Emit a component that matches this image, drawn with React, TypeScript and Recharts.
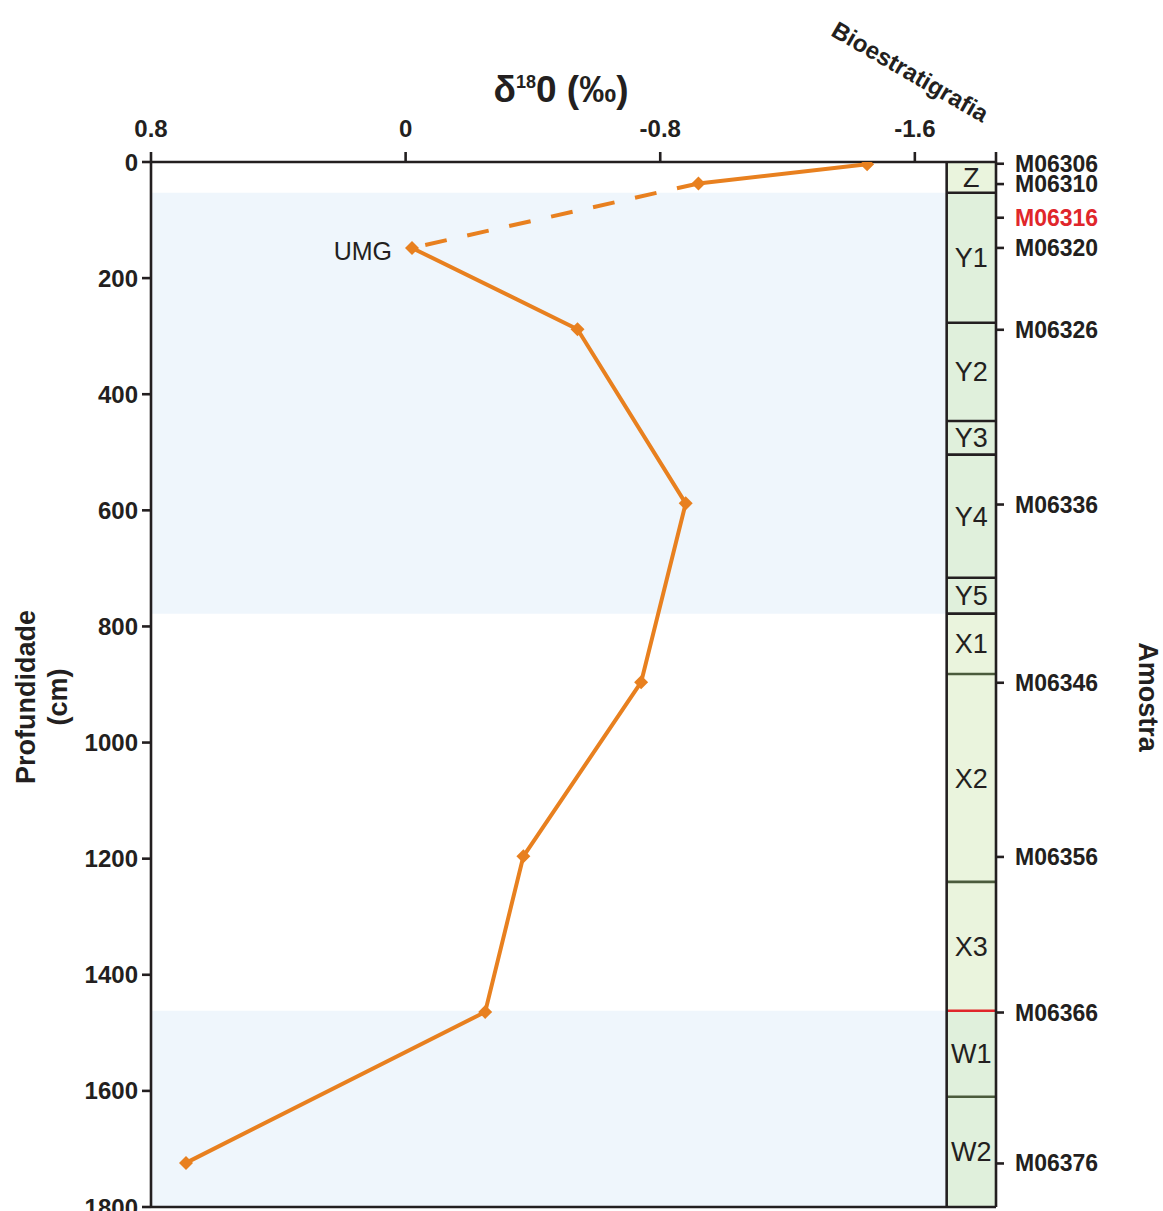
import React from 'react';
import {
  ScatterChart,
  Scatter,
  XAxis,
  YAxis,
  ReferenceArea,
  ReferenceLine,
  ReferenceDot,
} from 'recharts';

// ---------- data ----------
const depths = [4, 37, 148, 288, 588, 896, 1196, 1464, 1724];
const d18O = [-1.45, -0.92, -0.02, -0.54, -0.88, -0.74, -0.37, -0.25, 0.69];

const xTicks = [0.8, 0, -0.8, -1.6, -1.855];
const depthTicks = [0, 200, 400, 600, 800, 1000, 1200, 1400, 1600, 1800];

const sampleLabels = ['M06306', 'M06310', 'M06316', 'M06320', 'M06326', 'M06336', 'M06346', 'M06356', 'M06366', 'M06376'];
const sampleDepths = [3, 38, 96, 148, 289, 590, 897, 1197, 1465, 1725];
const sampleHighlighted = [false, false, true, false, false, false, false, false, false, false];

const zoneNames = ['Z', 'Y1', 'Y2', 'Y3', 'Y4', 'Y5', 'X1', 'X2', 'X3', 'W1', 'W2'];
const zoneTops = [0, 53, 277, 446, 504, 716, 778, 882, 1240, 1462, 1610];
const zoneBottoms = [53, 277, 446, 504, 716, 778, 882, 1240, 1462, 1610, 1800];
const zoneFills = ['#EAF4DD', '#E0F0DC', '#E0F0DC', '#E0F0DC', '#E0F0DC', '#E0F0DC', '#EAF4DD', '#EAF4DD', '#EAF4DD', '#E0F0DC', '#E0F0DC'];
const zoneTopLineColors = ['#231F20', '#231F20', '#231F20', '#231F20', '#231F20', '#231F20', '#231F20', '#4B5B3C', '#4B5B3C', '#E0262B', '#4B5B3C'];

const glacialBands = [
  { from: 53, to: 778 },
  { from: 1462, to: 1800 },
];

const X_LEFT = 0.8;
const X_COL = -1.7;
const X_RIGHT = -1.855;

// ---------- styles ----------
const INK = '#231F20';
const ORANGE = '#E8801F';
const FONT = '"Liberation Sans", Arial, sans-serif';

const points = depths.map((y, i) => ({ x: d18O[i], y }));
const segTop = points.slice(0, 2);
const segDashed = points.slice(1, 3);
const segMain = points.slice(2);

const Diamond = (props: any) => {
  const { cx, cy } = props;
  if (cx == null || cy == null) return <g />;
  const r = 7;
  return <path d={`M${cx},${cy - r} L${cx + r},${cy} L${cx},${cy + r} L${cx - r},${cy} Z`} fill={ORANGE} />;
};
const NoShape = () => <g />;

const RightTick = (props: any) => {
  const { x, y, payload } = props;
  const i = sampleDepths.indexOf(payload.value);
  return (
    <text
      x={x}
      y={y}
      textAnchor="start"
      dominantBaseline="central"
      fontFamily={FONT}
      fontWeight="bold"
      fontSize={23}
      fill={sampleHighlighted[i] ? '#E0262B' : INK}
    >
      {sampleLabels[i]}
    </text>
  );
};

export default function App() {
  return (
    <div style={{ position: 'absolute', left: 0, top: 0, width: 1163, height: 1211, background: '#fff', fontFamily: FONT, color: INK }}>
      <ScatterChart width={1163} height={1211} margin={{ top: 122, right: 67, bottom: 4, left: 91 }}>
        <XAxis
          xAxisId="x"
          type="number"
          dataKey="x"
          orientation="top"
          domain={[X_RIGHT, X_LEFT]}
          reversed
          allowDataOverflow
          ticks={xTicks}
          interval={0}
          height={40}
          tickSize={10}
          tickMargin={15}
          tickFormatter={(v: number) => (v === X_RIGHT ? '' : String(v))}
          axisLine={{ stroke: INK, strokeWidth: 2.6 }}
          tickLine={{ stroke: INK, strokeWidth: 2.6 }}
          tick={{ fill: INK, fontSize: 24, fontWeight: 'bold', fontFamily: FONT }}
        />
        <YAxis
          yAxisId="left"
          type="number"
          dataKey="y"
          domain={[0, 1800]}
          reversed
          allowDataOverflow
          ticks={depthTicks}
          interval={0}
          width={60}
          tickSize={9}
          tickMargin={4}
          axisLine={{ stroke: INK, strokeWidth: 2.6 }}
          tickLine={{ stroke: INK, strokeWidth: 2.6 }}
          tick={{ fill: INK, fontSize: 24, fontWeight: 'bold', fontFamily: FONT }}
        />
        <YAxis
          yAxisId="right"
          orientation="right"
          type="number"
          domain={[0, 1800]}
          reversed
          allowDataOverflow
          ticks={sampleDepths}
          interval={0}
          width={100}
          tickSize={8}
          tickMargin={11}
          axisLine={{ stroke: INK, strokeWidth: 2.6 }}
          tickLine={{ stroke: INK, strokeWidth: 2.6 }}
          tick={<RightTick />}
        />

        {glacialBands.map((b, i) => (
          <ReferenceArea
            key={`band${i}`}
            xAxisId="x"
            yAxisId="left"
            x1={X_LEFT}
            x2={X_COL}
            y1={b.from}
            y2={b.to}
            fill="#EFF6FC"
            fillOpacity={1}
            stroke="none"
          />
        ))}

        {zoneNames.map((z, i) => (
          <ReferenceArea
            key={`zone${i}`}
            xAxisId="x"
            yAxisId="left"
            x1={X_COL}
            x2={X_RIGHT}
            y1={zoneTops[i]}
            y2={zoneBottoms[i]}
            fill={zoneFills[i]}
            fillOpacity={1}
            stroke="none"
            label={{ value: z, position: 'center', fill: INK, fontSize: 27, fontFamily: FONT }}
          />
        ))}
        {zoneNames.map((z, i) =>
          i === 0 ? null : (
            <ReferenceLine
              key={`zl${i}`}
              xAxisId="x"
              yAxisId="left"
              segment={[
                { x: X_COL, y: zoneTops[i] },
                { x: X_RIGHT, y: zoneTops[i] },
              ]}
              stroke={zoneTopLineColors[i]}
              strokeWidth={2.6}
            />
          )
        )}
        <ReferenceLine xAxisId="x" yAxisId="left" x={X_COL} stroke={INK} strokeWidth={2.6} />
        <ReferenceLine xAxisId="x" yAxisId="left" y={1800} stroke={INK} strokeWidth={2.6} />

        <Scatter
          xAxisId="x"
          yAxisId="left"
          data={segDashed}
          fill={ORANGE}
          line={{ stroke: ORANGE, strokeWidth: 4, strokeDasharray: '22 21' }}
          shape={<NoShape />}
          isAnimationActive={false}
        />
        <Scatter
          xAxisId="x"
          yAxisId="left"
          data={segTop}
          fill={ORANGE}
          line={{ stroke: ORANGE, strokeWidth: 4 }}
          shape={<Diamond />}
          isAnimationActive={false}
        />
        <Scatter
          xAxisId="x"
          yAxisId="left"
          data={segMain}
          fill={ORANGE}
          line={{ stroke: ORANGE, strokeWidth: 4 }}
          shape={<Diamond />}
          isAnimationActive={false}
        />
        <ReferenceDot
          xAxisId="x"
          yAxisId="left"
          x={d18O[2]}
          y={depths[2]}
          r={0}
          stroke="none"
          fill="none"
          label={{ value: 'UMG', position: 'left', offset: 20, fill: INK, fontSize: 25, fontFamily: FONT, dy: 3 }}
        />
      </ScatterChart>

      {/* x-axis title */}
      <div
        style={{
          position: 'absolute',
          left: 561,
          top: 89,
          transform: 'translate(-50%, -50%)',
          fontSize: 37,
          fontWeight: 'bold',
          whiteSpace: 'nowrap',
          lineHeight: 1,
        }}
      >
        δ<sup style={{ fontSize: 18, verticalAlign: 'top', position: 'relative', top: 2 }}>18</sup>0 (‰)
      </div>

      {/* Bioestratigrafia */}
      <div
        style={{
          position: 'absolute',
          left: 910,
          top: 72,
          transform: 'translate(-50%, -50%) rotate(30deg)',
          fontSize: 24,
          fontWeight: 'bold',
          whiteSpace: 'nowrap',
          lineHeight: 1,
        }}
      >
        Bioestratigrafia
      </div>

      {/* left axis title */}
      <div
        style={{
          position: 'absolute',
          left: 42,
          top: 697,
          transform: 'translate(-50%, -50%) rotate(-90deg)',
          fontSize: 27,
          fontWeight: 'bold',
          whiteSpace: 'nowrap',
          lineHeight: '32px',
          textAlign: 'center',
        }}
      >
        Profundidade
        <br />
        (cm)
      </div>

      {/* right axis title */}
      <div
        style={{
          position: 'absolute',
          left: 1147,
          top: 697,
          transform: 'translate(-50%, -50%) rotate(90deg)',
          fontSize: 27,
          fontWeight: 'bold',
          whiteSpace: 'nowrap',
          lineHeight: 1,
        }}
      >
        Amostra
      </div>
    </div>
  );
}
